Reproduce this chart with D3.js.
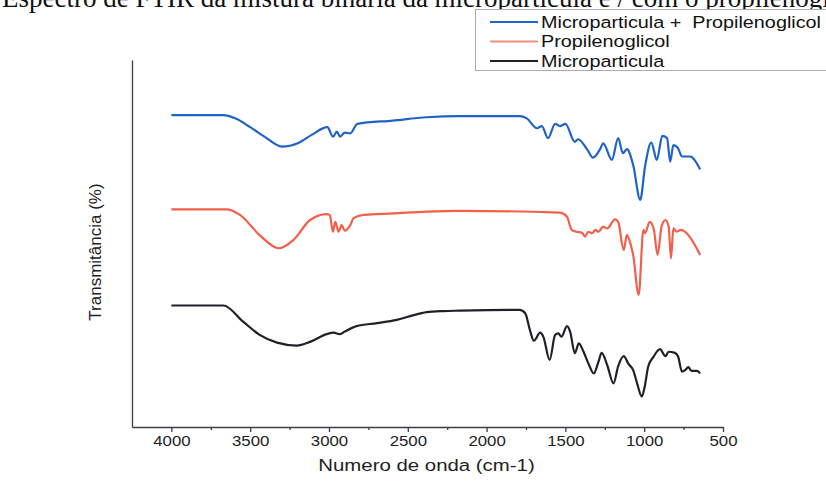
<!DOCTYPE html>
<html>
<head>
<meta charset="utf-8">
<script src="https://cdn.jsdelivr.net/npm/d3@7"></script>
<style>
  body { margin: 0; background: #ffffff; }
  svg { display: block; }
</style>
</head>
<body>
<svg id="chart" width="826" height="486"></svg>
<script>
// FTIR spectra: wavenumber (cm-1) vs. transmittance (%), three stacked traces
const seriesNames = ["Microparticula +  Propilenoglicol", "Propilenoglicol", "Microparticula"];
const seriesColors = ["#1f63c6", "#f0604a", "#1e2228"];
const legendLineColors = ["#1f63c6", "#f4907e", "#1e2228"];

const majorTicks = [4000, 3500, 3000, 2500, 2000, 1500, 1000, 500];
const minorTicks = [3750, 3250, 2750, 2250, 1750, 1250, 750];

const captionText = "Espectro de FTIR da mistura binária da micropartícula e / com o propilenoglicol";

// [wavenumber, transmittance]
const mixSpectrum = [
  [4000, 85.0], [3670, 85.0], [3595, 84.1], [3500, 81.7], [3405, 79.0], [3300, 76.4],
  [3195, 77.4], [3110, 79.6], [3010, 81.7], [2975, 79.1], [2950, 80.5], [2930, 79.1],
  [2900, 80.2], [2865, 80.0], [2820, 82.6], [2595, 83.5], [2380, 84.4], [2170, 84.7],
  [1790, 84.7], [1745, 84.1], [1680, 81.4], [1650, 82.0], [1610, 78.7], [1565, 82.6],
  [1535, 82.0], [1500, 82.6], [1440, 77.7], [1420, 78.4], [1360, 75.5], [1325, 73.4],
  [1280, 75.7], [1260, 77.3], [1205, 72.8], [1165, 78.7], [1135, 74.6], [1110, 75.7],
  [1070, 71.4], [1025, 61.9], [995, 70.9], [955, 77.5], [920, 72.8], [885, 79.3],
  [855, 78.7], [835, 72.3], [815, 76.8], [785, 75.9], [760, 73.7], [710, 73.7], [645, 70.2]
];

const glycolSpectrum = [
  [4000, 59.3], [3650, 59.3], [3565, 57.8], [3440, 52.3], [3320, 48.7], [3225, 51.0],
  [3120, 56.4], [3015, 58.0], [2995, 57.8], [2975, 53.2], [2960, 55.9], [2940, 53.2],
  [2920, 55.0], [2900, 53.5], [2865, 55.0], [2845, 56.9], [2780, 57.8], [2590, 58.2],
  [2380, 58.7], [2170, 58.9], [1535, 58.4], [1490, 57.3], [1460, 53.7], [1430, 53.2],
  [1395, 52.9], [1375, 51.9], [1355, 53.2], [1330, 52.8], [1310, 53.7], [1290, 53.2],
  [1260, 54.6], [1235, 54.1], [1185, 56.6], [1165, 55.9], [1130, 48.2], [1110, 52.3],
  [1085, 49.6], [1070, 46.9], [1035, 36.0], [1005, 53.7], [995, 52.8], [965, 55.9],
  [940, 54.1], [915, 46.9], [890, 54.6], [865, 56.4], [845, 54.6], [830, 46.0],
  [815, 54.1], [795, 53.2], [770, 53.7], [645, 46.9]
];

const microSpectrum = [
  [4000, 33.1], [3670, 33.1], [3545, 28.7], [3440, 25.1], [3330, 23.0], [3205, 22.2],
  [3120, 23.2], [3015, 25.3], [2970, 25.7], [2930, 25.3], [2900, 26.0], [2825, 27.5],
  [2695, 28.3], [2570, 29.2], [2485, 30.2], [2380, 31.3], [2275, 31.6], [2170, 31.7],
  [1790, 31.9], [1755, 31.0], [1725, 26.4], [1700, 23.5], [1660, 25.7], [1640, 24.6],
  [1600, 18.3], [1565, 25.1], [1545, 25.5], [1525, 24.6], [1490, 27.5], [1470, 26.0],
  [1440, 20.1], [1415, 22.8], [1385, 20.5], [1355, 17.4], [1320, 14.6], [1290, 17.8],
  [1270, 20.2], [1235, 16.9], [1195, 11.9], [1165, 16.6], [1130, 19.3], [1100, 17.2],
  [1070, 15.5], [1045, 11.9], [1015, 8.3], [995, 11.4], [975, 16.4], [940, 19.2],
  [900, 21.2], [865, 19.3], [845, 20.5], [805, 20.2], [785, 19.2], [760, 15.1],
  [740, 15.5], [720, 16.3], [700, 15.3], [665, 15.3], [645, 14.6]
];

const spectra = [mixSpectrum, glycolSpectrum, microSpectrum];

const svg = d3.select("#chart");
const FONT = "'Liberation Sans', Arial, sans-serif";

const x = d3.scaleLinear().domain([4250, 500]).range([132, 723]);
const y = d3.scaleLinear().domain([0, 100]).range([427, 60]);

// caption line running off the top edge
svg.append("text")
  .attr("x", 2).attr("y", 7)
  .attr("font-family", "'Liberation Serif', 'Times New Roman', serif")
  .attr("font-size", 27)
  .attr("fill", "#111")
  .text(captionText);

// x axis: major and minor ticks
const axisColor = "#3a3f46";
const gx = svg.append("g").attr("transform", `translate(0,${y(0)})`);
gx.call(d3.axisBottom(x).tickValues(majorTicks).tickSize(5).tickSizeOuter(0)
  .tickPadding(4).tickFormat(d3.format("d")));
gx.call(g => g.select(".domain").attr("stroke", axisColor).attr("stroke-width", 1.3));
gx.selectAll(".tick line").attr("stroke", axisColor).attr("stroke-width", 1.3);
gx.selectAll(".tick text")
  .attr("font-family", FONT).attr("font-size", 14).attr("fill", "#222")
  .attr("transform", "scale(1.2,1)");

const gxMinor = svg.append("g").attr("transform", `translate(0,${y(0)})`);
gxMinor.call(d3.axisBottom(x).tickValues(minorTicks).tickSize(3).tickSizeOuter(0).tickFormat(""));
gxMinor.select(".domain").remove();
gxMinor.selectAll(".tick line").attr("stroke", axisColor).attr("stroke-width", 1.3);

// y axis: plain line, no ticks
const gy = svg.append("g").attr("transform", `translate(${x(4250)},0)`);
gy.call(d3.axisLeft(y).tickValues([]).tickSizeOuter(0));
gy.select(".domain").attr("stroke", axisColor).attr("stroke-width", 1.3);

// axis titles
svg.append("g")
  .attr("transform", `translate(${(x(4250) + x(500)) / 2 - 1},471) scale(1.2,1)`)
  .append("text")
  .attr("text-anchor", "middle")
  .attr("font-family", FONT).attr("font-size", 17).attr("fill", "#222")
  .text("Numero de onda (cm-1)");

svg.append("text")
  .attr("transform", "translate(101,252) rotate(-90)")
  .attr("text-anchor", "middle")
  .attr("font-family", FONT).attr("font-size", 17).attr("fill", "#222")
  .text("Transmitância (%)");

// spectra
const line = d3.line()
  .x(d => x(d[0]))
  .y(d => y(d[1]))
  .curve(d3.curveMonotoneX);

svg.append("g").selectAll("path")
  .data(spectra)
  .join("path")
  .attr("d", line)
  .attr("fill", "none")
  .attr("stroke", (d, i) => seriesColors[i])
  .attr("stroke-width", 2.2)
  .attr("stroke-linejoin", "round");

// legend
const legend = svg.append("g");
legend.append("rect")
  .attr("x", 475.5).attr("y", 9.5).attr("width", 360).attr("height", 61)
  .attr("fill", "#ffffff").attr("stroke", "#a9adb2").attr("stroke-width", 1);

const rowY = [22, 41.5, 61];
seriesNames.forEach((name, i) => {
  legend.append("line")
    .attr("x1", 490).attr("x2", 538)
    .attr("y1", rowY[i]).attr("y2", rowY[i])
    .attr("stroke", legendLineColors[i]).attr("stroke-width", 2);
  legend.append("g")
    .attr("transform", `translate(541,${rowY[i]}) scale(1.2,1)`)
    .append("text")
    .attr("dy", "0.36em")
    .attr("font-family", FONT).attr("font-size", 16.5).attr("fill", "#111")
    .attr("xml:space", "preserve")
    .style("white-space", "pre")
    .text(name);
});
</script>
</body>
</html>
